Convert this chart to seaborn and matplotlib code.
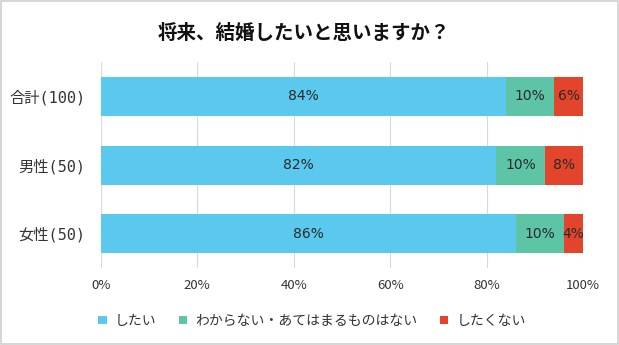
import matplotlib
matplotlib.use("Agg")
import matplotlib.pyplot as plt
import seaborn as sns
import pandas as pd
import numpy as np
from matplotlib.patches import Patch

categories = ["合計(100)", "男性(50)", "女性(50)"]
series_names = ["したい", "わからない・あてはまるものはない", "したくない"]
want = [84, 82, 86]
unsure = [10, 10, 10]
not_want = [6, 8, 4]
colors = ["#5BC8EE", "#5DC4A6", "#E2452B"]
xticks = [0, 20, 40, 60, 80, 100]

sns.set_theme(style="white")
plt.rcParams['font.family'] = ['Noto Sans CJK JP', 'DejaVu Sans']

fig = plt.figure(figsize=(6.19, 3.45), dpi=100)
ax = fig.add_axes([0.163, 0.223, 0.779, 0.597])

df = pd.DataFrame({"cat": categories, "a": want, "b": unsure, "c": not_want})
df["cum_a"] = df["a"]
df["cum_b"] = df["a"] + df["b"]
df["cum_c"] = df["a"] + df["b"] + df["c"]

for col, c in zip(["cum_c", "cum_b", "cum_a"], colors[::-1]):
    sns.barplot(data=df, y="cat", x=col, color=c, orient="h", width=0.57,
                ax=ax, saturation=1, edgecolor="none", linewidth=0, zorder=3)

for i in range(len(categories)):
    vals = [want[i], unsure[i], not_want[i]]
    start = 0
    for v in vals:
        ax.text(start + v / 2, i, f"{v}%", ha="center", va="center",
                fontsize=10, color="#2a2a2a", zorder=5,
                family=['DejaVu Sans'])
        start += v

ax.set_xlim(0, 100)
ax.set_ylim(2.5, -0.5)
ax.set_xticks(xticks)
ax.set_xticklabels([f"{t}%" for t in xticks], fontsize=9.5, color="#333333")
ax.set_yticks(range(len(categories)))
ax.set_yticklabels(categories, fontsize=11, color="#333333",
                   family=['DejaVu Sans Mono', 'Noto Sans CJK JP'])
ax.tick_params(axis="x", length=0, pad=8)
ax.tick_params(axis="y", length=0, pad=11)
ax.set_xlabel("")
ax.set_ylabel("")
ax.xaxis.grid(True, color="#D9D9D9", linewidth=0.8, zorder=0)
ax.set_axisbelow(True)
for s in ax.spines.values():
    s.set_visible(False)

fig.text(0.491, 0.904, "将来、結婚したいと思いますか？", ha="center", va="center",
         fontsize=14, fontweight="bold", color="#111111")

handles = [Patch(facecolor=c, edgecolor="none") for c in colors]
fig.legend(handles, series_names, loc="center", bbox_to_anchor=(0.504, 0.07),
           ncol=3, frameon=False, fontsize=10, handlelength=0.6, handleheight=0.6,
           handletextpad=0.6, columnspacing=1.6, labelcolor="#333333")

border = plt.Rectangle((0.002, 0.003), 0.996, 0.994, transform=fig.transFigure,
                       fill=False, edgecolor="#D0D0D0", linewidth=1.2)
fig.patches.append(border)

fig.savefig("out.png", dpi=100)
